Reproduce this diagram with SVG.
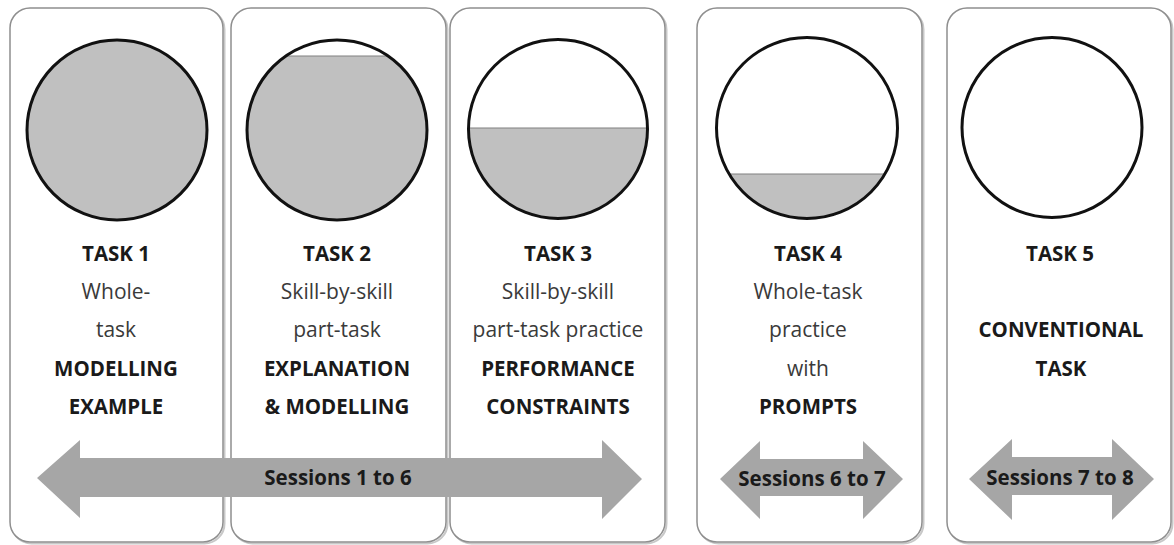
<svg xmlns="http://www.w3.org/2000/svg" width="1174" height="545" viewBox="0 0 1174 545">
<style>
.panel{fill:#fff;stroke:#8f8f8f;stroke-width:1.5}
.shadow{fill:none;stroke:#c8c8c8;stroke-width:2}
.ring{fill:none;stroke:#111;stroke-width:3}
.fill{fill:#c0c0c0;stroke:#808080;stroke-width:1}
.b{font-family:"Open Sans","Liberation Sans",sans-serif;font-weight:700;font-size:20.5px;fill:#1a1a1a;text-anchor:middle}
.r{font-family:"Open Sans","Liberation Sans",sans-serif;font-weight:400;font-size:21px;fill:#3a3a3a;text-anchor:middle}
.arrow{fill:#a6a6a6}
</style>
<defs>
<clipPath id="c2"><circle cx="337" cy="130" r="90"/></clipPath>
<clipPath id="c3"><circle cx="558" cy="129" r="89.5"/></clipPath>
<clipPath id="c4"><circle cx="807" cy="128" r="90.5"/></clipPath>
</defs>
<rect width="1174" height="545" fill="#fff"/>

<g id="task1">
<rect class="shadow" x="11.5" y="9.5" width="213" height="534" rx="20"/>
<rect class="panel" x="10" y="8" width="213" height="534" rx="20"/>
<circle cx="117" cy="130" r="90" fill="#c0c0c0"/>
<circle class="ring" cx="117" cy="130" r="90"/>
<text class="b" x="116" y="261">TASK 1</text>
<text class="r" x="116" y="299">Whole-</text>
<text class="r" x="116" y="337">task</text>
<text class="b" x="116" y="376">MODELLING</text>
<text class="b" x="116" y="414">EXAMPLE</text>
</g>

<g id="task2">
<rect class="shadow" x="232.5" y="9.5" width="215" height="534" rx="20"/>
<rect class="panel" x="231" y="8" width="215" height="534" rx="20"/>
<rect class="fill" x="240" y="56" width="200" height="180" clip-path="url(#c2)"/>
<circle class="ring" cx="337" cy="130" r="90"/>
<text class="b" x="337" y="261">TASK 2</text>
<text class="r" x="337" y="299">Skill-by-skill</text>
<text class="r" x="337" y="337">part-task</text>
<text class="b" x="337" y="376">EXPLANATION</text>
<text class="b" x="337" y="414">&amp; MODELLING</text>
</g>

<g id="task3">
<rect class="shadow" x="451.5" y="9.5" width="215" height="534" rx="20"/>
<rect class="panel" x="450" y="8" width="215" height="534" rx="20"/>
<rect class="fill" x="460" y="128" width="200" height="110" clip-path="url(#c3)"/>
<circle class="ring" cx="558" cy="129" r="89.5"/>
<text class="b" x="558" y="261">TASK 3</text>
<text class="r" x="558" y="299">Skill-by-skill</text>
<text class="r" x="558" y="337">part-task practice</text>
<text class="b" x="558" y="376">PERFORMANCE</text>
<text class="b" x="558" y="414">CONSTRAINTS</text>
</g>

<g id="task4">
<rect class="shadow" x="698.5" y="9.5" width="225" height="534" rx="20"/>
<rect class="panel" x="697" y="8" width="225" height="534" rx="20"/>
<rect class="fill" x="710" y="174" width="200" height="60" clip-path="url(#c4)"/>
<circle class="ring" cx="807" cy="128" r="90.5"/>
<text class="b" x="808" y="261">TASK 4</text>
<text class="r" x="808" y="299">Whole-task</text>
<text class="r" x="808" y="337">practice</text>
<text class="r" x="808" y="376">with</text>
<text class="b" x="808" y="414">PROMPTS</text>
</g>

<g id="task5">
<rect class="shadow" x="948.5" y="9.5" width="224" height="534" rx="20"/>
<rect class="panel" x="947" y="8" width="224" height="534" rx="20"/>
<circle class="ring" cx="1052" cy="127.5" r="90"/>
<text class="b" x="1060" y="261">TASK 5</text>
<text class="b" x="1061" y="337">CONVENTIONAL</text>
<text class="b" x="1061" y="376">TASK</text>
</g>

<g id="connectors">
<polygon class="arrow" points="37,478 80,440 80,458 602,458 602,440 642,479 602,519 602,497 80,497 80,518"/>
<text class="b" x="338" y="485">Sessions 1 to 6</text>
<polygon class="arrow" points="720,479 760,441 760,459 863,459 863,441 903,479 863,519 863,496 760,496 760,519"/>
<text class="b" x="812" y="486">Sessions 6 to 7</text>
<polygon class="arrow" points="969,479 1012,439 1012,457 1112,457 1112,439 1154,479 1112,520 1112,495 1012,495 1012,520"/>
<text class="b" x="1060" y="485">Sessions 7 to 8</text>
</g>
</svg>
